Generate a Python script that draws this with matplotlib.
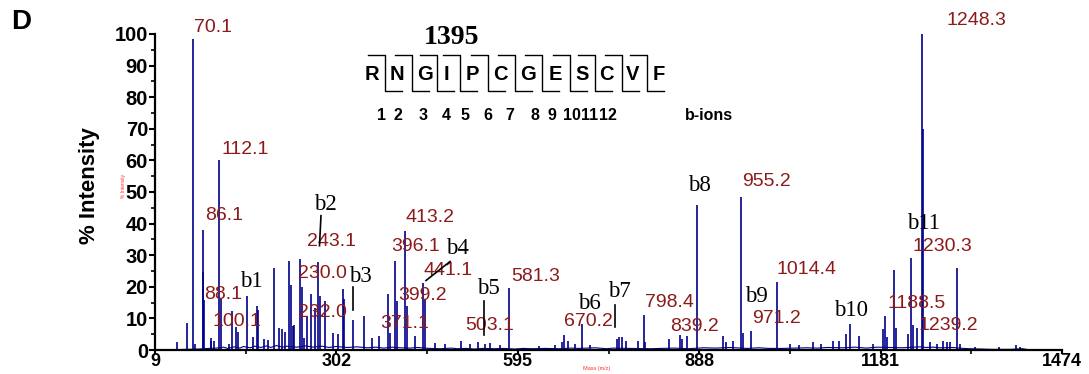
import matplotlib
matplotlib.use("Agg")
import matplotlib.pyplot as plt
from matplotlib.lines import Line2D

# ---- spectrum data (m/z, % intensity) ----
peak_mz = [45.0, 61.2, 70.1, 73.6, 86.1, 87.1, 88.1, 99.4, 100.1, 104.0,
           112.1, 115.1, 128.0, 133.8, 139.8, 142.5, 158.0, 167.7, 174.2, 175.8,
           185.0, 192.0, 201.2, 209.7, 213.6, 218.9, 225.9, 228.1, 232.3, 234.0,
           243.1, 245.9, 249.6, 255.0, 260.4, 267.4, 272.7, 275.4, 283.5, 296.9,
           305.0, 312.1, 314.7, 329.2, 347.0, 358.9, 371.1, 385.7, 388.5, 396.1,
           399.2, 413.2, 416.4, 428.8, 441.1, 445.0, 461.0, 477.0, 503.1, 518.0,
           531.0, 542.0, 550.0, 566.0, 581.3, 630.0, 655.0, 665.7, 670.2, 676.0,
           687.0, 699.0, 711.0, 754.5, 758.0, 763.5, 769.0, 789.0, 798.4, 800.0,
           839.2, 856.7, 859.5, 867.5, 884.6, 926.7, 932.0, 942.0, 955.2, 958.0,
           971.2, 1014.4, 1034.0, 1050.0, 1072.0, 1085.5, 1104.0, 1114.0, 1125.0, 1131.0,
           1146.0, 1168.0, 1185.0, 1188.5, 1191.0, 1202.0, 1206.6, 1225.0, 1230.3, 1233.0,
           1239.2, 1248.3, 1249.3, 1260.0, 1271.5, 1281.0, 1288.0, 1292.6, 1304.5, 1309.0,
           1333.0, 1373.0, 1400.0, 1405.7]
peak_int = [2.6, 8.4, 98.5, 1.9, 38.0, 24.6, 15.7, 3.0, 3.9, 3.0,
            60.1, 16.0, 2.0, 12.3, 7.4, 5.8, 17.0, 4.2, 14.0, 12.6,
            3.5, 3.2, 25.8, 7.0, 6.8, 5.8, 28.2, 20.7, 7.5, 8.0,
            28.7, 20.0, 3.9, 10.7, 17.7, 13.4, 28.0, 17.0, 15.5, 5.5,
            5.0, 19.2, 16.0, 9.4, 10.7, 3.9, 4.4, 17.6, 5.5, 28.1,
            15.5, 37.6, 14.0, 4.4, 21.3, 16.0, 2.2, 2.0, 3.0, 2.0,
            2.6, 1.8, 2.2, 1.5, 19.5, 1.2, 1.5, 2.4, 4.7, 2.9,
            1.9, 8.2, 1.5, 3.5, 4.0, 4.0, 3.0, 3.0, 11.2, 2.4,
            3.5, 4.7, 3.5, 4.5, 46.0, 4.5, 2.4, 3.0, 48.5, 5.5,
            6.1, 21.6, 2.0, 1.5, 2.6, 1.9, 3.0, 3.0, 5.0, 8.3,
            4.5, 2.0, 6.6, 10.8, 4.0, 25.3, 7.0, 5.0, 29.0, 8.0,
            7.0, 100.0, 70.0, 2.5, 2.0, 3.0, 2.5, 2.5, 26.1, 2.0,
            1.0, 0.8, 1.5, 1.0]

# baseline noise
noise_mz = [40, 60, 80, 95, 108, 120, 126, 137, 146, 152, 163, 170, 180, 189, 196,
            205, 215, 222, 238, 252, 264, 279, 290, 301, 320, 335, 352, 366, 378, 392,
            405, 421, 433, 452, 470, 488, 497, 512, 525, 538, 557, 572, 590, 603, 618,
            640, 662, 681, 694, 720, 738, 749, 776, 810, 826, 848, 870, 895, 915, 938,
            965, 985, 1000, 1022, 1042, 1061, 1080, 1095, 1120, 1140, 1158, 1175, 1196, 1215, 1244,
            1255, 1266, 1277, 1297, 1315, 1325, 1345, 1360, 1390, 1410, 1420]
noise_int = [0.1, 0.2, 0.3, 0.5, 0.6, 0.9, 0.5, 1.0, 0.6, 1.1, 0.7, 1.2, 0.8, 1.3, 0.8,
             1.4, 0.9, 1.2, 0.9, 1.3, 0.9, 1.2, 0.8, 1.1, 0.8, 1.0, 0.7, 0.9, 0.6, 0.9,
             0.7, 0.6, 0.8, 0.5, 0.4, 0.6, 0.4, 0.5, 0.3, 0.5, 0.4, 0.5, 0.3, 0.5, 0.4,
             0.5, 0.4, 0.6, 0.5, 0.7, 0.4, 0.6, 0.5, 0.4, 0.5, 0.6, 0.4, 0.7, 0.6, 0.8,
             0.5, 0.7, 0.5, 0.5, 0.6, 0.7, 0.6, 0.8, 0.7, 0.9, 0.6, 0.9, 0.8, 0.7, 1.0,
             0.8, 0.9, 0.7, 0.8, 0.5, 0.4, 0.3, 0.2, 0.2, 0.4, 0.1]

# labelled peaks: text, label centre (m/z, %)
peak_labels = ["70.1", "112.1", "86.1", "88.1", "100.1", "243.1", "230.0", "232.0",
               "413.2", "396.1", "441.1", "399.2", "371.1", "503.1", "581.3", "670.2",
               "798.4", "839.2", "955.2", "971.2", "1014.4", "1188.5", "1239.2",
               "1230.3", "1248.3"]
label_x = [102.7, 154.4, 120.4, 118.8, 141.4, 293.3, 278.7, 278.7,
           453.2, 430.5, 482.2, 441.9, 412.0, 550.1, 623.6, 708.4,
           839.2, 881.2, 995.9, 1013.2, 1062.1, 1239.3, 1291.0,
           1281.0, 1335.1]
label_y = [102.2, 63.5, 42.5, 17.6, 9.1, 34.3, 24.2, 12.0,
           42.0, 32.7, 25.2, 17.3, 8.5, 7.9, 23.3, 9.1,
           15.1, 7.5, 53.3, 10.1, 25.5, 14.8, 7.9,
           32.7, 104.4]

# b-ion annotations
b_names = ["b1", "b2", "b3", "b4", "b5", "b6", "b7", "b8", "b9", "b10", "b11"]
b_x = [164.1, 283.6, 340.1, 496.8, 547.7, 710.0, 758.5, 887.7, 980.6, 1133.2, 1251.1]
b_y = [21.7, 46.2, 23.3, 32.1, 19.5, 14.8, 18.6, 51.9, 17.0, 12.6, 39.9]
# marker ticks: (x0, y0, x1, y1) in data units
b_ticks = [(277.1, 42.5, 274.7, 33.0), (329.3, 19.8, 329.3, 12.6),
           (485.5, 28.0, 446.7, 22.0), (541.2, 15.4, 541.2, 4.7),
           (752.0, 14.2, 752.0, 7.2)]

sequence = ["R", "N", "G", "I", "P", "C", "G", "E", "S", "C", "V", "F"]
b_numbers = ["1", "2", "3", "4", "5", "6", "7", "8", "9", "10", "11", "12"]

x_ticks = [9, 302, 595, 888, 1181, 1474]

W, H = 1089, 374
BLUE = "#00008b"
RED = "#8b1a1a"
SANS = "Liberation Sans"
SERIF = "Liberation Serif"


def fpx(x, y):
    # pixel position -> figure fraction
    return x / W, 1 - y / H


fig = plt.figure(figsize=(W / 100, H / 100), dpi=100)
ax = fig.add_axes([155 / W, 24 / H, 907 / W, 316 / H])

ax.plot(noise_mz, noise_int, color=BLUE, lw=0.8, zorder=1)
ax.vlines(peak_mz, 0, peak_int, color=BLUE, lw=1.2, zorder=2)

ax.set_xlim(x_ticks[0], x_ticks[-1])
ax.set_ylim(0, 100)
for s in ["top", "right"]:
    ax.spines[s].set_visible(False)
for s in ["left", "bottom"]:
    ax.spines[s].set_linewidth(1.6)

ax.set_yticks(range(0, 101, 10))
ax.set_yticks(range(5, 100, 10), minor=True)
ax.set_xticks(x_ticks)
ax.set_xticks([(a + b) / 2 for a, b in zip(x_ticks[:-1], x_ticks[1:])], minor=True)
ax.tick_params(which="major", length=4, width=1.5, pad=1)
ax.tick_params(which="minor", length=3, width=1.2)
ax.tick_params(axis="x", which="major", length=3, pad=-1)
for lab in ax.get_yticklabels():
    lab.set_fontfamily(SANS)
    lab.set_fontweight("bold")
    lab.set_fontsize(14.5)
for lab in ax.get_xticklabels():
    lab.set_fontfamily(SANS)
    lab.set_fontweight("bold")
    lab.set_fontsize(13)

for txt, x, y in zip(peak_labels, label_x, label_y):
    ax.text(x, y, txt, color=RED, fontsize=14, family=SANS,
            ha="center", va="center", clip_on=False, zorder=3)

for txt, x, y in zip(b_names, b_x, b_y):
    ax.text(x, y, txt, color="black", fontsize=16.5, family=SERIF,
            ha="center", va="center", clip_on=False, zorder=4)
for x0, y0, x1, y1 in b_ticks:
    ax.plot([x0, x1], [y0, y1], color="black", lw=1.2, zorder=4)

# panel letter and axis labels
fig.text(*fpx(21, 22), "D", fontsize=20, fontweight="bold", family=SANS,
         ha="center", va="center")
fig.text(*fpx(89, 186), "% Intensity", fontsize=16, fontweight="bold", family=SANS,
         rotation=90, ha="center", va="center")
fig.text(*fpx(123, 186), "% Intensity", fontsize=3.5, color="#ff3030", family=SANS,
         rotation=90, ha="center", va="center")
fig.text(*fpx(597, 366), "Mass (m/z)", fontsize=4, color="#ff3030", family=SANS,
         ha="center", va="top")

# peptide sequence with fragment brackets
letter_px = [371.7, 397.3, 425, 446.7, 472.7, 500, 528.3, 555, 581.7, 606.7, 632.7, 658.3]
gap_px = [385, 411.7, 436.7, 460, 488.3, 515, 541.7, 570, 595, 621.7, 646.7]
num_px = [381.7, 398.3, 423.3, 446.7, 465, 488.3, 510, 535, 551.7, 571.7, 590, 608.3]

fig.text(*fpx(451, 38), "1395", fontsize=20, fontweight="bold", family=SERIF,
         ha="center", va="center")
for ch, x in zip(sequence, letter_px):
    fig.text(*fpx(x, 75), ch, fontsize=14.5, fontweight="bold", family=SANS,
             ha="center", va="center")
for g in gap_px:
    xs = [g - 17, g, g, g + 17]
    ys = [55, 55, 91, 91]
    fig.add_artist(Line2D([x / W for x in xs], [1 - y / H for y in ys],
                          color="black", lw=1.0, transform=fig.transFigure))
for n, x in zip(b_numbers, num_px):
    fig.text(*fpx(x, 115), n, fontsize=11.5, fontweight="bold", family=SANS,
             ha="center", va="center")
fig.text(*fpx(709, 115), "b-ions", fontsize=11.5, fontweight="bold", family=SANS,
         ha="center", va="center")

fig.savefig("out.png", dpi=100)
